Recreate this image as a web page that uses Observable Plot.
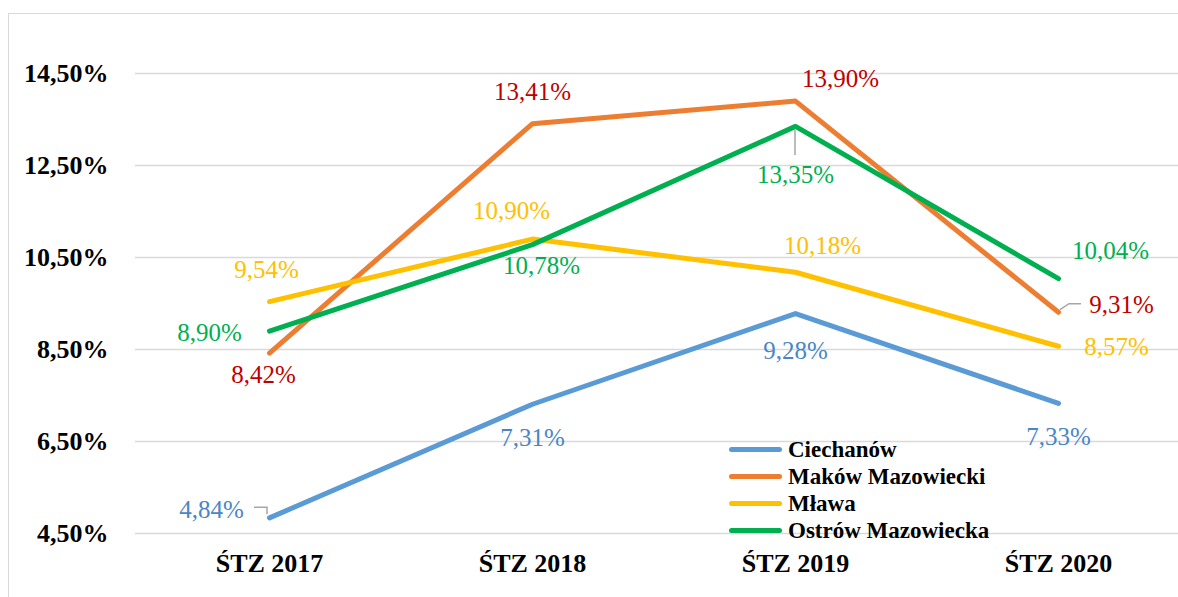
<!DOCTYPE html>
<html>
<head>
<meta charset="utf-8">
<script src="https://cdn.jsdelivr.net/npm/d3@7"></script>
<script src="https://cdn.jsdelivr.net/npm/@observablehq/plot@0.6"></script>
<style>
  html, body { margin: 0; padding: 0; background: #fff; }
  #wrap { position: relative; width: 1178px; height: 597px; overflow: hidden; font-family: "Liberation Serif", "Times New Roman", serif; }
  #frame { position: absolute; left: 8px; top: 13px; right: -2px; bottom: -2px; border-left: 1.5px solid #d9d9d9; border-top: 1.5px solid #d9d9d9; }
  #chart { position: absolute; left: 0; top: 0; }
  #chart svg, #chart svg text { font-family: "Liberation Serif", "Times New Roman", serif !important; }
  #legend { position: absolute; left: 729px; top: 436px; }
  .row { display: flex; align-items: center; height: 27px; }
  .sw { width: 53px; height: 5px; border-radius: 3px; margin-right: 6px; }
  .lt { font-weight: bold; font-size: 23px; color: #000; line-height: 27px; }
</style>
</head>
<body>
<div id="wrap">
  <div id="frame"></div>
  <div id="chart"></div>
  <div id="legend"></div>
</div>
<script>
// ---- data ----
const categories = ["ŚTZ 2017", "ŚTZ 2018", "ŚTZ 2019", "ŚTZ 2020"];
const seriesNames = ["Ciechanów", "Maków Mazowiecki", "Mława", "Ostrów Mazowiecka"];
const ciechanow = [4.84, 7.31, 9.28, 7.33];
const makow = [8.42, 13.41, 13.90, 9.31];
const mlawa = [9.54, 10.90, 10.18, 8.57];
const ostrow = [8.90, 10.78, 13.35, 10.04];
const yTicks = [4.5, 6.5, 8.5, 10.5, 12.5, 14.5];

// ---- styles ----
const lineColors = ["#5b9bd5", "#ed7d31", "#ffc000", "#00b050"];
const labelColors = ["#4a86c6", "#c00000", "#ffc000", "#00b050"];
// label offsets (px) relative to each point, per series, per category
const labelOffsets = [
  [[-58, -8], [0, 34], [0, 37], [0, 34]],
  [[-6, 22], [0, -32], [45, -22], [63, -7]],
  [[-3, -32], [-21, -28], [27, -26], [58, 1]],
  [[-60, 2], [9, 21], [0, 49], [52, -28]]
];
// leader lines (pixel paths relative to point): [seriesIndex, categoryIndex, path]
const leaders = [
  [0, 0, "M -15,-10 H -2 V -3"],
  [3, 2, "M 0,4 V 29"],
  [1, 3, "M 2,-2 L 11,-8 H 23"]
];

const seriesValues = [ciechanow, makow, mlawa, ostrow];
const rows = [];
seriesValues.forEach((vals, si) => vals.forEach((v, ci) => rows.push({series: seriesNames[si], si, ci, cat: categories[ci], value: v})));

const fmt = v => v.toFixed(2).replace(".", ",") + "%";
const font = "Liberation Serif";

const labelMarks = rows.map(r => Plot.text([r], {
  x: "cat", y: "value", text: d => fmt(d.value),
  dx: labelOffsets[r.si][r.ci][0], dy: labelOffsets[r.si][r.ci][1],
  fill: labelColors[r.si], fontSize: 25, fontFamily: font, textAnchor: "middle"
}));

const leaderMark = (index, scales) => {
  const g = d3.create("svg:g").attr("fill", "none").attr("stroke", "#a6a6a6").attr("stroke-width", 1.5);
  leaders.forEach(([si, ci, path]) => {
    const px = scales.x(categories[ci]);
    const py = scales.y(seriesValues[si][ci]);
    g.append("path").attr("d", path).attr("transform", `translate(${px},${py})`);
  });
  return g.node();
};

const plot = Plot.plot({
  width: 1178,
  height: 597,
  marginLeft: 135,
  marginRight: 0,
  marginTop: 27,
  marginBottom: 64,
  style: { background: "transparent", fontFamily: font },
  x: { type: "point", domain: categories, range: [268, 1059], padding: 0 },
  y: { domain: [4.5, 15.5] },
  color: { domain: seriesNames, range: lineColors },
  marks: [
    Plot.gridY(yTicks, { stroke: "#d9d9d9", strokeOpacity: 1, strokeWidth: 1.5 }),
    Plot.axisY(yTicks, { tickSize: 0, tickPadding: 27, tickFormat: fmt, fontSize: 26, fontWeight: "bold", fill: "#000", label: null, fontFamily: font }),
    Plot.axisX({ tickSize: 0, tickPadding: 20, fontSize: 26, fontWeight: "bold", fill: "#000", label: null, fontFamily: font }),
    leaderMark,
    Plot.line(rows, { x: "cat", y: "value", z: "series", stroke: "series", strokeWidth: 5, strokeLinecap: "round", strokeLinejoin: "round" }),
    ...labelMarks
  ]
});
document.getElementById("chart").appendChild(plot);

// legend
const legend = document.getElementById("legend");
seriesNames.forEach((name, i) => {
  const row = document.createElement("div");
  row.className = "row";
  const sw = document.createElement("div");
  sw.className = "sw";
  sw.style.background = lineColors[i];
  const t = document.createElement("span");
  t.className = "lt";
  t.textContent = name;
  row.appendChild(sw);
  row.appendChild(t);
  legend.appendChild(row);
});
</script>
</body>
</html>
